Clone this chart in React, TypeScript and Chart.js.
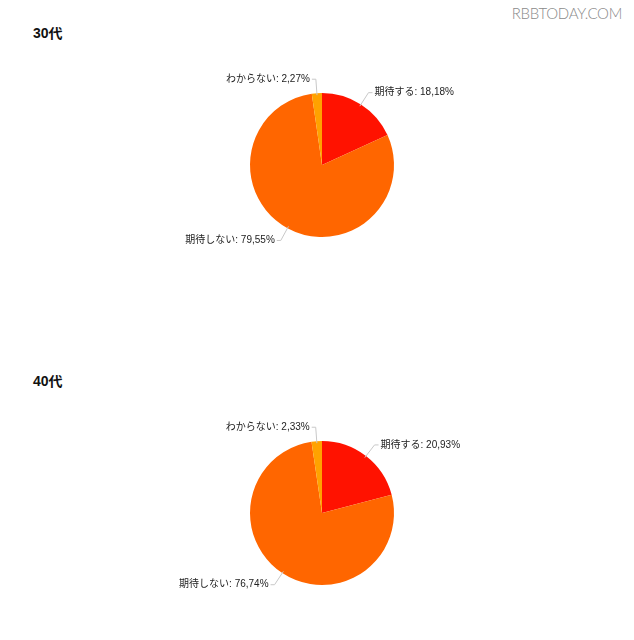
import { useEffect, useRef } from 'react';
import { Chart, registerables, Plugin } from 'chart.js';

Chart.register(...registerables);

const categories = ['期待する', '期待しない', 'わからない'];
const values30 = [18.18, 79.55, 2.27];
const values40 = [20.93, 76.74, 2.33];
const sliceColors = ['#ff1200', '#ff6600', '#ffa200'];

const FONT = '"Liberation Sans", Arial, "Noto Sans CJK JP", sans-serif';

const leaderLabels: Plugin<'pie'> = {
  id: 'leaderLabels',
  afterDatasetsDraw(chart) {
    const ctx = chart.ctx;
    const meta = chart.getDatasetMeta(0);
    const vals = chart.data.datasets[0].data as number[];
    const labels = chart.data.labels as string[];
    ctx.save();
    ctx.font = `10px ${FONT}`;
    ctx.textBaseline = 'middle';
    meta.data.forEach((el: any, i) => {
      const { x, y, startAngle, endAngle, outerRadius } = el.getProps(
        ['x', 'y', 'startAngle', 'endAngle', 'outerRadius'],
        true
      );
      const mid = (startAngle + endAngle) / 2;
      const cos = Math.cos(mid);
      const sin = Math.sin(mid);
      const x0 = x + cos * (outerRadius - 2);
      const y0 = y + sin * (outerRadius - 2);
      const x1 = x + cos * (outerRadius + 14);
      const y1 = y + sin * (outerRadius + 14);
      const right = cos >= 0;
      const x2 = x1 + (right ? 4 : -4);
      ctx.strokeStyle = '#c8c8c8';
      ctx.lineWidth = 1;
      ctx.beginPath();
      ctx.moveTo(x0, y0);
      ctx.lineTo(x1, y1);
      ctx.lineTo(x2, y1);
      ctx.stroke();
      ctx.fillStyle = '#222';
      ctx.textAlign = right ? 'left' : 'right';
      const txt = `${labels[i]}: ${vals[i].toFixed(2).replace('.', ',')}%`;
      ctx.fillText(txt, x2 + (right ? 2 : -2), y1);
    });
    ctx.restore();
  },
};

function PieChart({ values, top }: { values: number[]; top: number }) {
  const canvasRef = useRef<HTMLCanvasElement>(null);
  const chartRef = useRef<Chart<'pie'> | null>(null);

  useEffect(() => {
    if (!canvasRef.current) return;
    if (chartRef.current) chartRef.current.destroy();

    chartRef.current = new Chart(canvasRef.current, {
      type: 'pie',
      data: {
        labels: categories,
        datasets: [
          {
            data: values,
            backgroundColor: sliceColors,
            borderWidth: 0,
          },
        ],
      },
      options: {
        responsive: false,
        animation: false,
        layout: { padding: { left: 250, right: 240, top: 73, bottom: 73 } },
        plugins: {
          legend: { display: false },
          tooltip: { enabled: false },
        },
      },
      plugins: [leaderLabels],
    });

    return () => {
      chartRef.current?.destroy();
      chartRef.current = null;
    };
  }, [values]);

  return (
    <canvas
      ref={canvasRef}
      width={634}
      height={290}
      style={{ position: 'absolute', left: 0, top, width: 634, height: 290 }}
    />
  );
}

export default function App() {
  const titleStyle: React.CSSProperties = {
    position: 'absolute',
    left: 33,
    fontFamily: FONT,
    fontWeight: 'bold',
    fontSize: 14,
    color: '#111',
    lineHeight: '16px',
  };
  return (
    <div
      style={{
        position: 'absolute',
        left: 0,
        top: 0,
        width: 634,
        height: 640,
        background: '#fff',
        overflow: 'hidden',
      }}
    >
      <div
        style={{
          position: 'absolute',
          right: 12,
          top: 4,
          fontFamily: 'Lato, "DejaVu Sans", sans-serif',
          fontWeight: 300,
          fontSize: 15,
          color: '#8a8a8a',
          letterSpacing: -0.3,
        }}
      >
        RBBTODAY.COM
      </div>
      <div style={{ ...titleStyle, top: 25 }}>30代</div>
      <PieChart values={values30} top={20} />
      <div style={{ ...titleStyle, top: 373 }}>40代</div>
      <PieChart values={values40} top={368} />
    </div>
  );
}
